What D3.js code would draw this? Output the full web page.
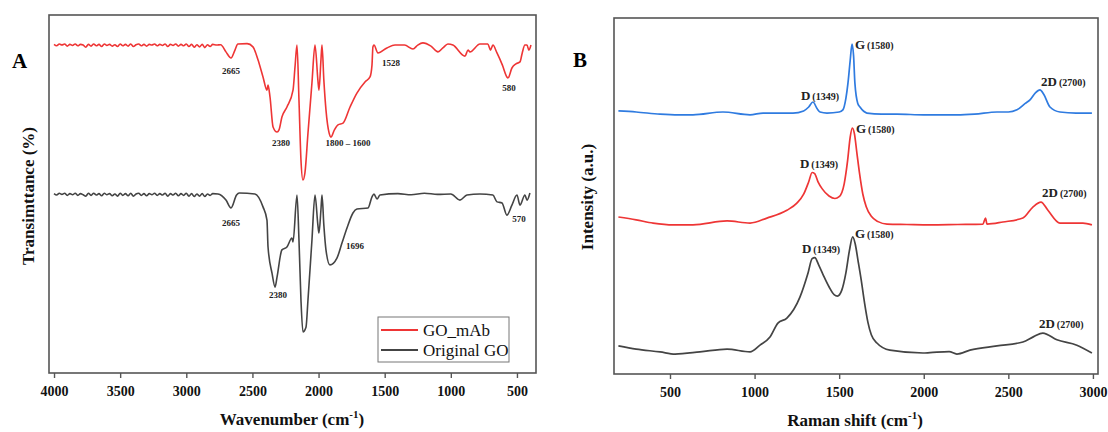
<!DOCTYPE html>
<html>
<head>
<meta charset="utf-8">
<script src="https://cdn.jsdelivr.net/npm/d3@7"></script>
<style>
  body { margin: 0; background: #fff; }
  text { font-family: "Liberation Serif", "Times New Roman", serif; }
</style>
</head>
<body>
<svg id="chart" width="1108" height="432"></svg>
<script>
// ---- data ----
// FTIR: [wavenumber cm-1, transmittance a.u.]
var ftirGoMab = [[4000,91.8],[3980,91.4],[3960,91.9],[3940,91.6],[3920,91.9],[3900,91.3],[3880,91.8],[3860,91.5],[3840,91.9],[3820,91.4],[3800,91.8],[3780,91.6],[3760,91.0],[3740,91.8],[3720,91.3],[3700,91.9],[3680,91.4],[3660,91.8],[3640,91.2],[3620,91.9],[3600,91.5],[3580,91.8],[3560,91.3],[3540,91.7],[3520,91.2],[3500,91.9],[3480,91.4],[3460,91.8],[3440,91.3],[3420,91.9],[3400,91.2],[3380,91.7],[3360,91.9],[3340,91.4],[3320,91.8],[3300,91.3],[3280,91.8],[3260,91.6],[3240,91.9],[3220,91.4],[3200,91.8],[3180,91.5],[3160,91.9],[3140,91.2],[3120,91.8],[3100,91.5],[3080,91.9],[3060,91.3],[3040,91.8],[3020,91.4],[3000,91.9],[2980,91.2],[2960,91.8],[2940,91.0],[2920,91.7],[2900,91.1],[2880,91.8],[2860,90.9],[2840,91.7],[2820,91.2],[2800,91.8],[2770,91.6],[2740,91.7],[2700,89.7],[2662,88.0],[2632,90.2],[2610,91.9],[2540,92.0],[2496,91.1],[2458,87.5],[2420,82.7],[2390,79.0],[2382,80.4],[2367,77.1],[2344,68.7],[2314,67.3],[2299,67.9],[2277,71.5],[2239,74.3],[2193,79.0],[2178,85.5],[2163,91.6],[2148,76.2],[2133,59.5],[2118,53.9],[2103,55.9],[2080,67.0],[2050,81.0],[2027,91.6],[2005,81.8],[1997,79.0],[1982,87.4],[1974,91.6],[1960,81.8],[1944,73.5],[1920,67.0],[1906,65.9],[1880,67.9],[1853,69.3],[1815,69.8],[1762,74.3],[1710,78.2],[1649,81.3],[1611,82.7],[1596,86.0],[1589,91.1],[1581,91.6],[1551,89.4],[1483,90.8],[1422,91.6],[1350,91.6],[1286,90.5],[1250,91.6],[1211,92.2],[1150,91.3],[1097,89.7],[1060,90.8],[1022,91.9],[984,91.6],[893,88.5],[870,90.2],[855,89.7],[780,91.9],[720,91.9],[700,90.2],[682,91.6],[651,89.4],[610,86.0],[576,82.7],[568,82.4],[538,85.2],[510,86.3],[477,86.9],[460,89.4],[440,91.6],[424,91.6],[410,90.2],[394,91.6]];

var ftirOriginal = [[4000,50.1],[3980,49.7],[3960,50.2],[3940,49.9],[3920,50.2],[3900,49.6],[3880,50.1],[3860,49.8],[3840,50.2],[3820,49.6],[3800,50.1],[3780,49.8],[3760,49.4],[3740,50.2],[3720,49.6],[3700,50.2],[3680,49.7],[3660,50.1],[3640,49.5],[3620,50.2],[3600,49.8],[3580,50.1],[3560,49.5],[3540,50.0],[3520,49.4],[3500,50.2],[3480,49.6],[3460,50.1],[3440,49.5],[3420,50.2],[3400,49.4],[3380,50.0],[3360,50.2],[3340,49.6],[3320,50.1],[3300,49.5],[3280,50.1],[3260,49.8],[3240,50.2],[3220,49.6],[3200,50.1],[3180,49.7],[3160,50.2],[3140,49.4],[3120,50.1],[3100,49.7],[3080,50.2],[3060,49.5],[3040,50.1],[3020,49.6],[3000,50.2],[2980,49.4],[2960,50.1],[2940,49.3],[2920,50.0],[2900,49.4],[2880,50.1],[2860,49.3],[2840,50.0],[2820,49.6],[2800,50.1],[2760,50.0],[2700,48.3],[2662,46.1],[2620,49.7],[2600,50.3],[2481,50.0],[2420,46.4],[2390,42.7],[2382,35.2],[2352,27.9],[2329,24.0],[2314,26.8],[2277,34.4],[2239,35.2],[2201,37.7],[2193,36.6],[2163,49.7],[2148,37.1],[2133,20.4],[2118,11.5],[2095,12.8],[2080,20.4],[2050,37.1],[2027,49.7],[2005,41.3],[1997,39.1],[1982,45.6],[1974,49.7],[1960,41.3],[1944,34.4],[1914,30.2],[1861,32.1],[1823,36.3],[1785,40.5],[1740,44.7],[1710,45.8],[1626,46.1],[1596,49.2],[1581,50.0],[1558,48.6],[1536,49.7],[1400,50.1],[1300,49.8],[1200,50.2],[1100,49.9],[1000,50.0],[931,48.3],[878,49.7],[780,50.0],[682,49.7],[651,47.8],[613,47.5],[576,44.1],[538,46.9],[500,49.7],[477,46.9],[440,49.7],[424,48.3],[402,50.3]];

// FTIR peak labels: [text, wavenumber, value]
var ftirLabelsGoMab = [["2665",2662,83.5],["2380",2284,63.4],["1800 \u2013 1600",1778,63.4],["1528",1453,85.8],["580",561,78.8]];
var ftirLabelsOriginal = [["2665",2662,41.1],["2380",2307,20.9],["1696",1725,34.6],["570",485,42.2]];

var ftirTicks = [4000, 3500, 3000, 2500, 2000, 1500, 1000, 500];
var legendNames = ["GO_mAb", "Original GO"];

// Raman: [shift cm-1, intensity a.u.]
var ramanBlue = [[195,73.9],[300,73.6],[441,73.0],[550,72.8],[636,72.8],[813,73.6],[973,72.8],[1050,73.3],[1150,73.3],[1227,73.3],[1290,73.9],[1320,75.0],[1345,76.4],[1370,74.5],[1387,73.6],[1428,73.3],[1500,73.6],[1522,74.2],[1540,77.5],[1552,81.7],[1565,88.0],[1576,92.7],[1585,89.5],[1593,81.7],[1610,76.0],[1623,75.0],[1645,73.8],[1664,73.3],[1750,73.0],[1842,73.0],[2000,72.8],[2100,72.8],[2196,72.8],[2300,73.0],[2433,73.6],[2500,73.6],[2551,74.2],[2600,76.0],[2628,77.0],[2660,79.0],[2687,79.8],[2710,78.5],[2746,75.0],[2805,73.6],[2900,73.3],[2994,73.3]];

var ramanRed = [[195,44.1],[300,43.3],[400,42.4],[518,41.9],[636,41.9],[837,43.0],[973,42.4],[1073,43.8],[1191,46.0],[1250,48.0],[1290,50.5],[1320,54.0],[1340,56.6],[1355,56.3],[1375,54.0],[1400,52.0],[1440,50.0],[1475,49.3],[1500,49.8],[1530,53.5],[1550,60.0],[1565,66.5],[1578,69.1],[1590,67.5],[1605,62.0],[1620,56.5],[1640,50.5],[1660,47.0],[1690,44.3],[1730,42.8],[1783,42.1],[1900,42.0],[2037,41.9],[2200,42.0],[2350,42.1],[2365,43.8],[2374,42.1],[2468,42.7],[2586,43.8],[2645,46.9],[2693,48.3],[2734,46.0],[2805,42.4],[2941,42.4],[2994,41.9]];

var ramanBlack = [[195,7.9],[300,7.0],[441,6.2],[530,5.6],[677,6.2],[837,7.0],[973,6.2],[1032,8.1],[1091,10.4],[1138,14.3],[1191,15.7],[1268,21.6],[1316,28.4],[1340,32.4],[1356,32.7],[1380,30.5],[1404,28.0],[1440,24.5],[1470,22.3],[1490,21.9],[1515,23.5],[1540,28.5],[1560,34.5],[1580,38.5],[1595,36.5],[1611,32.0],[1630,26.5],[1650,20.0],[1670,14.5],[1690,11.0],[1723,8.7],[1800,6.7],[1995,5.9],[2037,6.0],[2150,6.3],[2196,5.6],[2273,6.7],[2433,7.9],[2586,9.0],[2650,10.5],[2704,11.5],[2787,9.6],[2905,8.1],[2994,5.9]];

// Raman band labels: [band, position, shift, value]
var ramanLabelsBlue = [["D","(1349)",1274,77.0],["G","(1580)",1593,91.3],["2D","(2700)",2693,80.9]];
var ramanLabelsRed = [["D","(1349)",1268,57.9],["G","(1580)",1599,67.7],["2D","(2700)",2699,49.7]];
var ramanLabelsBlack = [["D","(1349)",1280,34.0],["G","(1580)",1593,38.2],["2D","(2700)",2681,12.9]];

var ramanTicks = [500, 1000, 1500, 2000, 2500, 3000];

var red = '#ee3535', grey = '#444444', blue = '#2f7be0';

var svg = d3.select('#chart');

function styleAxis(g) {
    g.select('.domain').remove();
    g.selectAll('line').attr('stroke', '#555').attr('stroke-width', 1.4);
    g.selectAll('text').attr('fill', '#111').style('font-size', '14px').style('font-weight', 'bold')
        .style('font-family', '"Liberation Serif", serif');
}

// ---- panel A ----
var a = {left: 49, right: 536, top: 15, bottom: 373};
var xA = d3.scaleLinear().domain([4038, 356]).range([a.left, a.right]);
var yA = d3.scaleLinear().domain([0, 100]).range([a.bottom, a.top]);

var gA = svg.append('g');
gA.append('rect')
    .attr('x', a.left).attr('y', a.top)
    .attr('width', a.right - a.left).attr('height', a.bottom - a.top)
    .attr('fill', 'none').attr('stroke', '#555').attr('stroke-width', 1.6);

gA.append('g')
    .attr('transform', 'translate(0,' + a.bottom + ')')
    .call(d3.axisBottom(xA).tickValues(ftirTicks).tickFormat(d3.format('d')).tickSize(5).tickPadding(8).tickSizeOuter(0))
    .call(styleAxis);

var lineA = d3.line().curve(d3.curveMonotoneX)
    .x(function(d) { return xA(d[0]); }).y(function(d) { return yA(d[1]); });

gA.append('path').datum(ftirOriginal).attr('d', lineA)
    .attr('fill', 'none').attr('stroke', grey).attr('stroke-width', 1.6).attr('stroke-linejoin', 'round');
gA.append('path').datum(ftirGoMab).attr('d', lineA)
    .attr('fill', 'none').attr('stroke', red).attr('stroke-width', 1.6).attr('stroke-linejoin', 'round');

gA.selectAll('.pk').data(ftirLabelsGoMab.concat(ftirLabelsOriginal)).enter().append('text')
    .attr('x', function(d) { return xA(d[1]); })
    .attr('y', function(d) { return yA(d[2]); })
    .attr('text-anchor', 'middle')
    .style('font-size', '9px').style('font-weight', 'bold').attr('fill', '#222')
    .text(function(d) { return d[0]; });

// legend
var lg = gA.append('g');
lg.append('rect').attr('x', 378).attr('y', 317).attr('width', 131).attr('height', 45)
    .attr('fill', '#fff').attr('stroke', '#777').attr('stroke-width', 1);
[red, grey].forEach(function(c, i) {
    lg.append('line').attr('x1', 381).attr('x2', 418).attr('y1', 330 + i * 20).attr('y2', 330 + i * 20)
        .attr('stroke', c).attr('stroke-width', 1.8);
    lg.append('text').attr('x', 423).attr('y', 330 + i * 20).attr('dy', '0.35em')
        .style('font-size', '17px').attr('fill', '#111').text(legendNames[i]);
});

svg.append('text').attr('x', 12).attr('y', 68).style('font-size', '21px').style('font-weight', 'bold').text('A');

svg.append('text')
    .attr('transform', 'translate(34,196) rotate(-90)')
    .attr('text-anchor', 'middle')
    .style('font-size', '17px').style('font-weight', 'bold').attr('fill', '#111')
    .text('Transimttance (%)');

var tA = svg.append('text').attr('x', 292).attr('y', 425).attr('text-anchor', 'middle')
    .style('font-size', '17px').style('font-weight', 'bold').attr('fill', '#111');
tA.append('tspan').text('Wavenumber (cm');
tA.append('tspan').attr('dy', -7).style('font-size', '11px').text('-1');
tA.append('tspan').attr('dy', 7).text(')');

// ---- panel B ----
var b = {left: 614, right: 1098, top: 18, bottom: 374};
var xB = d3.scaleLinear().domain([169, 3030]).range([b.left, b.right]);
var yB = d3.scaleLinear().domain([0, 100]).range([b.bottom, b.top]);

var gB = svg.append('g');
gB.append('rect')
    .attr('x', b.left).attr('y', b.top)
    .attr('width', b.right - b.left).attr('height', b.bottom - b.top)
    .attr('fill', 'none').attr('stroke', '#555').attr('stroke-width', 1.6);

gB.append('g')
    .attr('transform', 'translate(0,' + b.bottom + ')')
    .call(d3.axisBottom(xB).tickValues(ramanTicks).tickFormat(d3.format('d')).tickSize(5).tickPadding(8).tickSizeOuter(0))
    .call(styleAxis);

var lineB = d3.line().curve(d3.curveMonotoneX)
    .x(function(d) { return xB(d[0]); }).y(function(d) { return yB(d[1]); });

[[ramanBlack, grey], [ramanRed, red], [ramanBlue, blue]].forEach(function(s) {
    gB.append('path').datum(s[0]).attr('d', lineB)
        .attr('fill', 'none').attr('stroke', s[1]).attr('stroke-width', 1.7).attr('stroke-linejoin', 'round');
});

var bandLabels = gB.selectAll('.band').data(ramanLabelsBlue.concat(ramanLabelsRed, ramanLabelsBlack)).enter().append('text')
    .attr('x', function(d) { return xB(d[2]); })
    .attr('y', function(d) { return yB(d[3]); })
    .style('font-weight', 'bold').attr('fill', '#222');
bandLabels.append('tspan').style('font-size', '13px').text(function(d) { return d[0]; });
bandLabels.append('tspan').attr('dx', 2).style('font-size', '10px').text(function(d) { return d[1]; });

svg.append('text').attr('x', 573).attr('y', 67).style('font-size', '21px').style('font-weight', 'bold').text('B');

svg.append('text')
    .attr('transform', 'translate(593,197) rotate(-90)')
    .attr('text-anchor', 'middle')
    .style('font-size', '17px').style('font-weight', 'bold').attr('fill', '#111')
    .text('Intensity (a.u.)');

var tB = svg.append('text').attr('x', 855).attr('y', 426).attr('text-anchor', 'middle')
    .style('font-size', '17px').style('font-weight', 'bold').attr('fill', '#111');
tB.append('tspan').text('Raman shift (cm');
tB.append('tspan').attr('dy', -7).style('font-size', '11px').text('-1');
tB.append('tspan').attr('dy', 7).text(')');
</script>
</body>
</html>
